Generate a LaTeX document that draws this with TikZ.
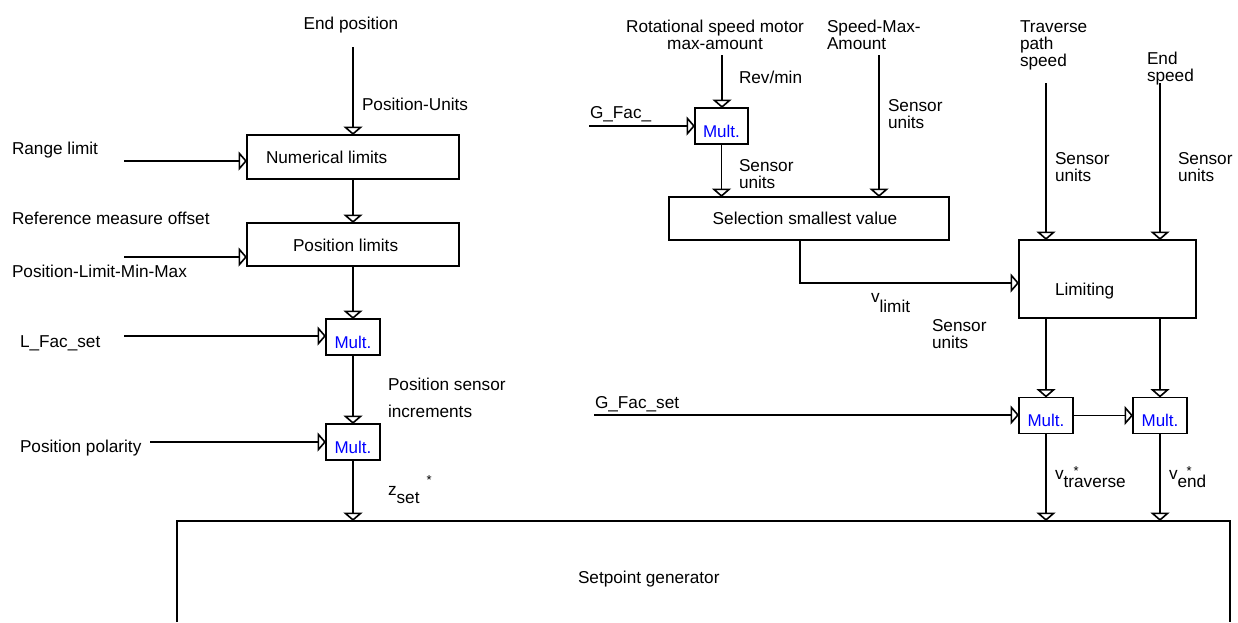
\documentclass[tikz,border=0pt]{standalone}
\usepackage{fontspec}
\setmainfont{Liberation Sans}
\usetikzlibrary{arrows.meta}
\begin{document}
\begin{tikzpicture}[x=0.5pt, y=-0.5pt,
  every node/.style={font=\fontsize{8.6}{8.5}\selectfont, inner sep=0pt, outer sep=0pt},
  ln/.style={line width=0.8pt},
  arr/.style={ln, -{Triangle[open, width=9.5pt, length=4.2pt]}},
  box/.style={draw, line width=0.8pt, inner sep=0pt, outer sep=0pt},
  mult/.style={box, minimum width=27pt, minimum height=18pt, text=blue,
    font=\fontsize{8.5}{8.5}\selectfont, text height=11pt, text depth=0pt},
  lbl/.style={anchor=base west},
  lbl2/.style={anchor=north west, align=left}
]
\newcommand{\astk}[1]{\rlap{\hspace{#1}\raisebox{2pt}{\fontsize{6.5}{6.5}\selectfont *}}}
\useasboundingbox (0,0) rectangle (1238,622);

% ---------- boxes ----------
\node[box, minimum width=106pt, minimum height=22pt] (numlim) at (353,157) {};
\node[box, minimum width=106pt, minimum height=21.5pt] (poslim) at (353,244.5) {};
\node[mult] (multA) at (353,337) {Mult.};
\node[mult] (multB) at (353,442) {Mult.};
\node[mult, minimum width=26.5pt] (multC) at (721.5,126) {Mult.};
\node[box, minimum width=140pt, minimum height=21.5pt] (sel) at (809,218.5) {};
\node[box, minimum width=88.5pt, minimum height=39pt] (lim) at (1107.5,279) {};
\node[mult] (multD) at (1046,415.5) {Mult.};
\node[mult] (multE) at (1160,415.5) {Mult.};
\node[minimum width=526.5pt, minimum height=56pt] (sg) at (703.5,577) {};
\coordinate (cBot) at (0,622);
\draw[ln] (sg.north west |- cBot) -- (sg.north west) -- (sg.north east) -- (sg.north east |- cBot);

% ---------- box texts ----------
\node[lbl] (tNum) at (266,163) {Numerical limits};
\node[lbl] (tPos) at (293,251) {Position limits};
\node[anchor=base] (tSel) at (805,224) {Selection smallest value};
\node[lbl] (tLim) at (1055,295) {Limiting};
\node[lbl] (tSg) at (578,583) {Setpoint generator};

% ---------- left labels ----------
\node[anchor=base] (tEnd) at (351,29) {End position};
\coordinate (cEnd) at (353,47);
\node[lbl] (tPU) at (362,110) {Position-Units};
\node[lbl] (tRange) at (12,154) {Range limit};
\coordinate (cRange) at (124,161);
\node[lbl] (tRef) at (12,224) {Reference measure offset};
\node[lbl] (tPLMM) at (12,277) {Position-Limit-Min-Max};
\coordinate (cPLMM) at (124,257);
\node[lbl] (tL) at (20,347) {L\_Fac\_set};
\coordinate (cL) at (124,336);
\node[lbl] (tPS1) at (388,390) {Position sensor};
\node[lbl] (tPS2) at (388,417) {increments};
\node[lbl] (tPol) at (20,452) {Position polarity};
\coordinate (cPol) at (150,442);
\node[lbl] (tZ) at (388,495) {z\raisebox{-4pt}{set}\raisebox{5.5pt}{\hspace{3.5pt}\fontsize{6.5}{6.5}\selectfont *}};

% ---------- right labels ----------
\node[anchor=north, align=center] (tRot) at (715,20) {Rotational speed motor\\max-amount};
\coordinate (cRot) at (722,55);
\node[lbl] (tRev) at (739,83) {Rev/min};
\node[lbl] (tG) at (590,118) {G\_Fac\_};
\coordinate (cG) at (589,126);
\node[lbl2] (tSU1) at (739,159) {Sensor\\units};
\node[lbl2] (tSMA) at (827,20) {Speed-Max-\\Amount};
\coordinate (cSpeed) at (879,55);
\node[lbl2] (tSU2) at (888,99) {Sensor\\units};
\node[lbl2] (tTrav) at (1020,21) {Traverse\\path\\speed};
\node[lbl2] (tEndS) at (1147,52) {End\\speed};
\coordinate (cTrav) at (1046,83);
\coordinate (cEndS) at (1160,83);
\node[lbl2] (tSU3) at (1055,152) {Sensor\\units};
\node[lbl2] (tSU4) at (1178,152) {Sensor\\units};
\coordinate (sBend) at (800,283);
\node[lbl] (tVlim) at (871,302) {v\raisebox{-5pt}{limit}};
\node[lbl2] (tSU5) at (932,319) {Sensor\\units};
\node[lbl] (tGset) at (595,408) {G\_Fac\_set};
\coordinate (cGset) at (594,415);
\node[lbl] (tVtr) at (1055,479) {v\astk{5pt}\raisebox{-4pt}{traverse}};
\node[lbl] (tVend) at (1169,479) {v\astk{4.5pt}\raisebox{-4pt}{end}};

% ---------- connectors ----------
\draw[arr] (cEnd) -- (numlim.north);
\draw[arr] (cRange) -- (cRange -| numlim.west);
\draw[arr] (numlim.south) -- (poslim.north);
\draw[arr] (cPLMM) -- (cPLMM -| poslim.west);
\draw[arr] (poslim.south) -- (multA.north);
\draw[arr] (cL) -- (cL -| multA.west);
\draw[arr] (multA.south) -- (multB.north);
\draw[arr] (cPol) -- (cPol -| multB.west);
\draw[arr] (multB.south) -- (multB.south |- sg.north);

\draw[arr] (cRot) -- (cRot |- multC.north);
\draw[arr] (cG) -- (cG -| multC.west);
\draw[arr] (multC.south) -- (multC.south |- sel.north);
\draw[arr] (cSpeed) -- (cSpeed |- sel.north);
\draw[arr] (sel.south -| sBend) |- (lim.west |- sBend);
\draw[arr] (cTrav) -- (cTrav |- lim.north);
\draw[arr] (cEndS) -- (cEndS |- lim.north);
\draw[arr] (lim.south -| multD.north) -- (multD.north);
\draw[arr] (lim.south -| multE.north) -- (multE.north);
\draw[arr] (cGset) -- (cGset -| multD.west);
\draw[arr] (multD.east) -- (multE.west);
\draw[arr] (multD.south) -- (multD.south |- sg.north);
\draw[arr] (multE.south) -- (multE.south |- sg.north);
\end{tikzpicture}
\end{document}
